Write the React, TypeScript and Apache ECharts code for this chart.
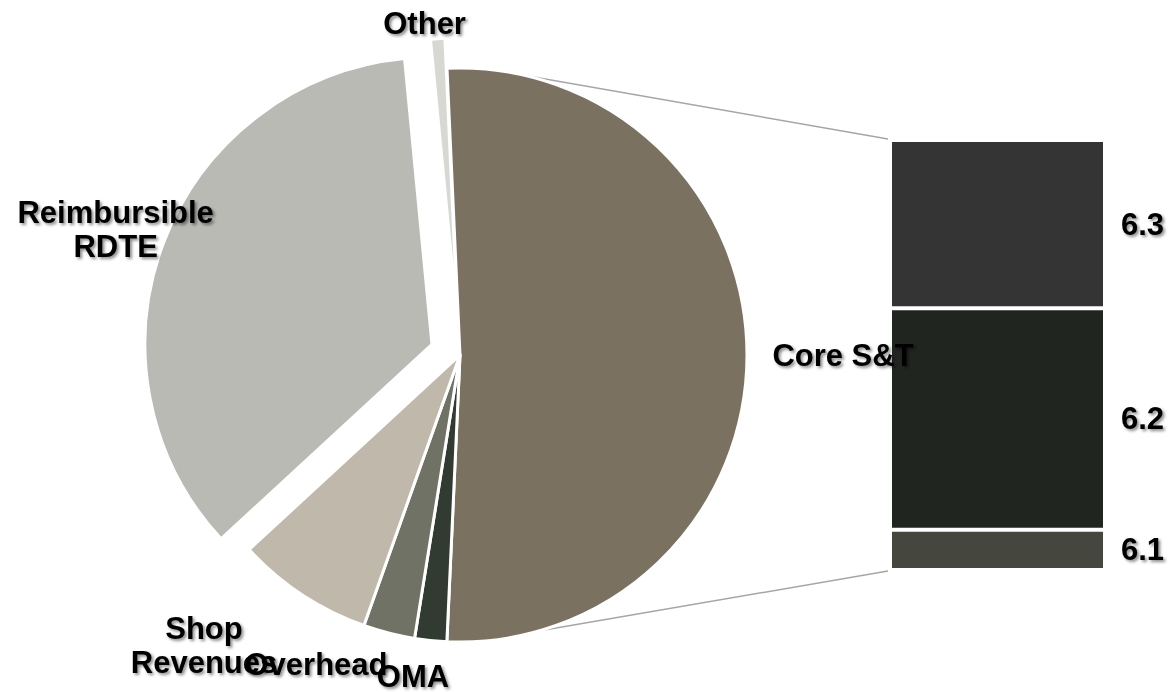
import React, { useEffect, useRef } from "react";
import * as echarts from "echarts";

// ---- data ----
const coreParts = ["6.1", "6.2", "6.3"];
const coreValues = [4.8, 26.5, 20.1];
const pieNames = ["Core S&T", "OMA", "Overhead", "Shop\nRevenues", "Reimbursible\nRDTE", "Other"];
const otherValues = [1.8, 2.9, 7.7, 35.3, 0.8]; // OMA, Overhead, Shop, RDTE, Other
const pieColors = ["#7b7160", "#323b32", "#6f7264", "#c0b8aa", "#b9bab4", "#d8d8d3"];
const barColors = ["#45463d", "#212520", "#343434"];
const explodedNames = ["Reimbursible\nRDTE", "Other"];

// label anchor positions (layout only)
const labelPos: Record<string, [number, number]> = {
  "Core S&T": [843, 355],
  OMA: [413, 676],
  Overhead: [316, 664],
  "Shop\nRevenues": [204, 645],
  "Reimbursible\nRDTE": [105, 220],
  Other: [449, 24],
};
// label nudges for the exploded (selected) slices: [top, right, bottom, left] padding
const labelPad: Record<string, number[]> = {
  "Reimbursible\nRDTE": [0, 14, 6, 0],
  Other: [0, 0, 0, 46],
};

const CX = 460;
const CY = 355;
const R = 287;
const GRID = { left: 890, top: 140, width: 215, height: 430 };

const textShadow = {
  textShadowColor: "rgba(0,0,0,0.45)",
  textShadowBlur: 3,
  textShadowOffsetX: 2,
  textShadowOffsetY: 2,
};

export default function App() {
  const ref = useRef<HTMLDivElement>(null);
  useEffect(() => {
    document.body.style.margin = "0";
    const chart = echarts.init(ref.current!, undefined, { renderer: "svg" });
    const coreTotal = coreValues.reduce((a, b) => a + b, 0);
    const pieValues = [coreTotal, ...otherValues];
    const total = pieValues.reduce((a, b) => a + b, 0);
    const coreAngle = (coreTotal / total) * 360;
    const startAngle = 92.6;

    const pt = (degFromTop: number) => {
      const a = (degFromTop * Math.PI) / 180;
      return [CX + R * Math.sin(a), CY - R * Math.cos(a)];
    };
    const pTop = pt(-2.6 + coreAngle * 0.085);
    const pBot = pt(-2.6 + coreAngle * 0.9);

    const pieData = pieNames.map((n, i) => {
      const item: any = {
        name: n,
        value: pieValues[i],
        selected: explodedNames.includes(n),
        itemStyle: { color: pieColors[i] },
        select: { itemStyle: { color: pieColors[i] } },
      };
      if (labelPad[n]) {
        item.label = { padding: labelPad[n] };
        item.select.label = { padding: labelPad[n] };
      }
      return item;
    });

    chart.setOption({
      animation: false,
      textStyle: { fontFamily: "Liberation Sans, Arial, sans-serif" },
      grid: { left: GRID.left, top: GRID.top, width: GRID.width, height: GRID.height },
      xAxis: { type: "category", data: ["Core S&T"], show: false },
      yAxis: { type: "value", min: 0, max: coreTotal, show: false },
      graphic: [
        {
          type: "line",
          shape: { x1: pTop[0], y1: pTop[1], x2: GRID.left - 2, y2: GRID.top - 1 },
          style: { stroke: "#a6a6a6", lineWidth: 1.5 },
        },
        {
          type: "line",
          shape: { x1: pBot[0], y1: pBot[1], x2: GRID.left - 2, y2: GRID.top + GRID.height + 1 },
          style: { stroke: "#a6a6a6", lineWidth: 1.5 },
        },
      ],
      series: [
        {
          type: "pie",
          center: [CX, CY],
          radius: R,
          startAngle,
          clockwise: true,
          selectedMode: "multiple",
          selectedOffset: 30,
          silent: true,
          itemStyle: { borderColor: "#ffffff", borderWidth: 3 },
          emphasis: { disabled: true },
          label: {
            show: true,
            position: "outside",
            formatter: "{b}",
            fontSize: 31,
            fontWeight: "bold",
            color: "#000000",
            lineHeight: 34,
            align: "center",
            overflow: "none",
            ...textShadow,
          },
          labelLine: { show: false },
          labelLayout: (p: any) => {
            const name = pieNames[p.dataIndex];
            const pos = labelPos[name];
            return { x: pos[0], y: pos[1], align: "center", verticalAlign: "middle" };
          },
          data: pieData,
        },
        ...coreParts.map((n, i) => ({
          type: "bar",
          name: n,
          stack: "core",
          barWidth: "100%",
          silent: true,
          data: [coreValues[i]],
          itemStyle: { color: barColors[i], borderColor: "#ffffff", borderWidth: 2 },
          label: {
            show: true,
            position: "right",
            distance: 16,
            formatter: n,
            fontSize: 31,
            fontWeight: "bold",
            color: "#000000",
            ...textShadow,
          },
        })),
      ],
    });
    return () => chart.dispose();
  }, []);
  return <div ref={ref} style={{ width: 1170, height: 692 }} />;
}
